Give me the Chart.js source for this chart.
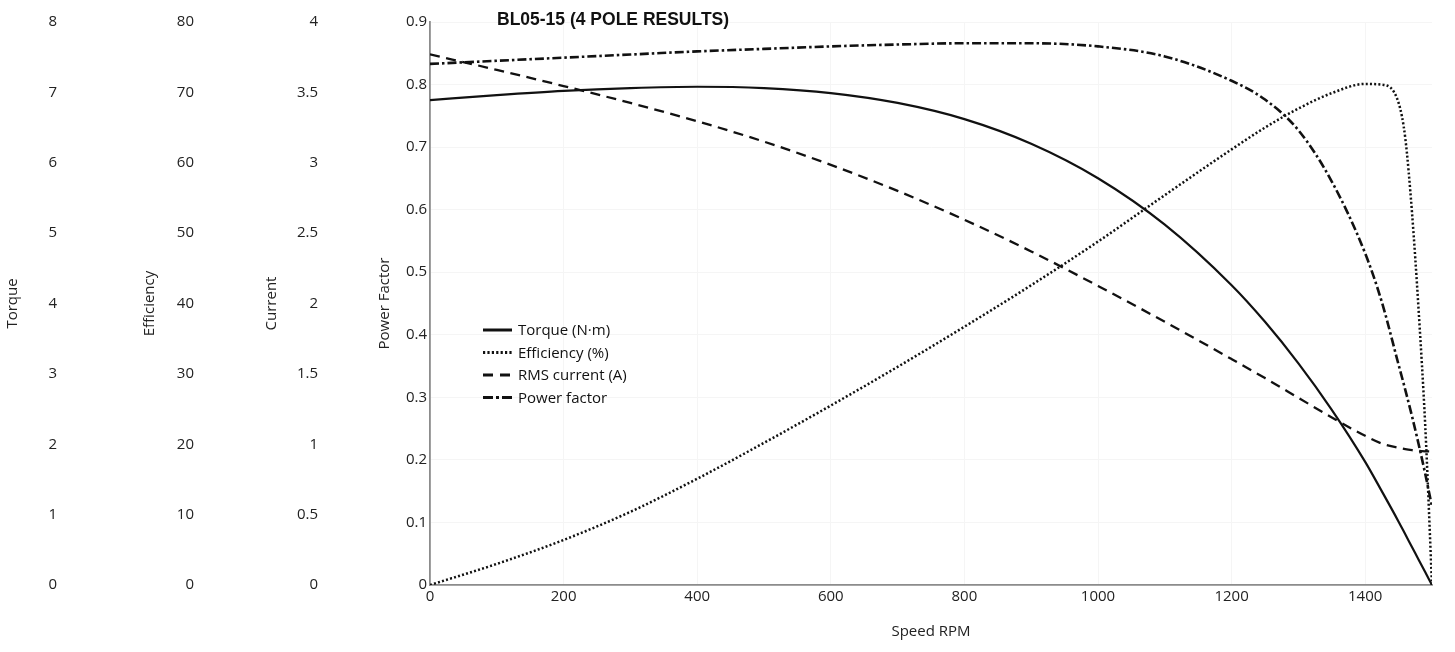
<!DOCTYPE html>
<html>
<head>
<meta charset="utf-8">
<title>BL05-15 (4 POLE RESULTS)</title>
<script src="https://cdn.jsdelivr.net/npm/chart.js@4.4.1/dist/chart.umd.min.js"></script>
<style>
  html, body { margin: 0; padding: 0; background: #fff; }
  #wrap { position: relative; width: 1455px; height: 652px; }
</style>
</head>
<body>
<div id="wrap"><canvas id="motorChart" width="1455" height="652"></canvas></div>
<script>
// Motor performance curves versus shaft speed
const chartTitle = 'BL05-15 (4 POLE RESULTS)';

const speedRpm = [0, 100, 200, 300, 400, 500, 600, 700, 800, 900, 1000, 1100, 1200,
                  1250, 1300, 1350, 1400, 1425, 1450, 1460, 1470, 1480, 1490, 1500];

const torqueNm = [6.89, 6.96, 7.02, 7.06, 7.08, 7.06, 6.99, 6.85, 6.62, 6.27, 5.78, 5.12, 4.26,
                  3.74, 3.15, 2.49, 1.75, 1.33, 0.90, 0.72, 0.54, 0.36, 0.18, 0];

const efficiencyPct = [0, 3.0, 6.4, 10.4, 15.1, 20.2, 25.5, 31.0, 36.7, 42.6, 48.8, 55.4, 61.9,
                       65.0, 67.7, 69.9, 71.2, 71.1, 68.5, 63.5, 53.0, 39.0, 22.4, 0];

const rmsCurrentA = [3.77, 3.66, 3.545, 3.425, 3.295, 3.15, 2.985, 2.80, 2.595, 2.37, 2.125, 1.87, 1.605,
                     1.47, 1.33, 1.19, 1.06, 1.005, 0.975, 0.965, 0.958, 0.953, 0.95, 0.948];

const powerFactor = [0.833, 0.838, 0.843, 0.848, 0.853, 0.857, 0.861, 0.864, 0.866, 0.866, 0.861, 0.845, 0.806,
                     0.776, 0.727, 0.645, 0.53, 0.452, 0.352, 0.312, 0.27, 0.225, 0.177, 0.125];

const seriesLabels = ['Torque (N\u00b7m)', 'Efficiency (%)', 'RMS current (A)', 'Power factor'];

const INK = '#111111';
const TEXT = '#222222';
const FONT = '"Open Sans", "Noto Sans", sans-serif';
const tickFont = { family: FONT, size: 15 };
const titleFont = { family: FONT, size: 15 };

const toPoints = values => speedRpm.map((s, i) => ({ x: s, y: values[i] }));

// one of the stacked value axes on the left
function leftAxis(title, max, step, boxWidth, titleOffset, weight, opts = {}) {
  return {
    type: 'linear',
    position: 'left',
    weight: weight,
    min: 0,
    max: max,
    ticks: {
      stepSize: step,
      padding: opts.tickPad ?? 4,
      font: tickFont,
      color: TEXT,
      callback: v => String(+v.toFixed(2))
    },
    grid: opts.grid ? { color: '#f5f5f5', drawTicks: false } : { display: false, drawTicks: false },
    border: opts.border ? { display: true, color: '#8c8c8c', width: 1.8 } : { display: false },
    title: {
      display: true,
      text: title,
      font: titleFont,
      color: TEXT,
      padding: { top: titleOffset, bottom: 0 }
    },
    afterFit: scale => { scale.width = boxWidth; }
  };
}

// title and in-plot legend
const overlayPlugin = {
  id: 'overlay',
  afterDraw(chart) {
    const { ctx, chartArea } = chart;
    ctx.save();
    ctx.font = 'bold 17.5px "Liberation Sans", Arial, sans-serif';
    ctx.fillStyle = INK;
    ctx.textAlign = 'left';
    ctx.textBaseline = 'middle';
    ctx.fillText(chartTitle, chartArea.left + 67, chartArea.top - 2);

    const x0 = chartArea.left + 53;
    const y0 = chartArea.top + 308;
    const rowH = 22.5;
    chart.data.datasets.forEach((ds, i) => {
      const y = y0 + i * rowH;
      ctx.beginPath();
      ctx.setLineDash(ds.legendDash || []);
      ctx.lineWidth = 3;
      ctx.strokeStyle = ds.borderColor;
      ctx.moveTo(x0, y);
      ctx.lineTo(x0 + 29, y);
      ctx.stroke();
      ctx.setLineDash([]);
      ctx.font = '15px ' + FONT;
      ctx.fillStyle = INK;
      ctx.textBaseline = 'middle';
      ctx.fillText(ds.label, x0 + 35, y + 1);
    });
    ctx.restore();
  }
};

const lineStyle = { cubicInterpolationMode: 'monotone', pointRadius: 0, fill: false, borderColor: INK };

new Chart(document.getElementById('motorChart'), {
  type: 'line',
  data: {
    datasets: [
      { ...lineStyle, label: seriesLabels[0], data: toPoints(torqueNm), yAxisID: 'torque',
        borderWidth: 2.2, borderDash: [], legendDash: [] },
      { ...lineStyle, label: seriesLabels[1], data: toPoints(efficiencyPct), yAxisID: 'eff',
        borderWidth: 2.5, borderDash: [2, 2.2], legendDash: [2.2, 2.2] },
      { ...lineStyle, label: seriesLabels[2], data: toPoints(rmsCurrentA), yAxisID: 'cur',
        borderWidth: 2.3, borderDash: [10, 6.5], legendDash: [10, 7] },
      { ...lineStyle, label: seriesLabels[3], data: toPoints(powerFactor), yAxisID: 'pf',
        borderWidth: 2.6, borderDash: [9, 3, 2.5, 3], legendDash: [10, 3, 3, 3] }
    ]
  },
  options: {
    responsive: false,
    animation: false,
    devicePixelRatio: 1,
    layout: { padding: { left: 0, top: 22, right: 23, bottom: 0 } },
    plugins: {
      legend: { display: false },
      title: { display: false },
      tooltip: { enabled: false }
    },
    scales: {
      x: {
        type: 'linear',
        min: 0,
        max: 1500,
        ticks: {
          stepSize: 200,
          includeBounds: false,
          padding: 3,
          maxRotation: 0,
          font: tickFont,
          color: TEXT,
          callback: v => String(v)
        },
        grid: { color: '#f5f5f5', drawTicks: false },
        border: { display: true, color: '#8c8c8c', width: 1.8 },
        title: {
          display: true,
          text: 'Speed RPM',
          font: titleFont,
          color: TEXT,
          padding: { top: 0, bottom: 11 }
        },
        afterFit: scale => { scale.height = 67; }
      },
      torque: leftAxis('Torque', 8, 1, 61, 4, 4),
      eff: leftAxis('Efficiency', 80, 10, 137, 80, 3),
      cur: leftAxis('Current', 4, 0.5, 124, 65, 2),
      pf: leftAxis('Power Factor', 0.9, 0.1, 108, 54, 1, { grid: true, border: true, tickPad: 3 })
    }
  },
  plugins: [overlayPlugin]
});
</script>
</body>
</html>
